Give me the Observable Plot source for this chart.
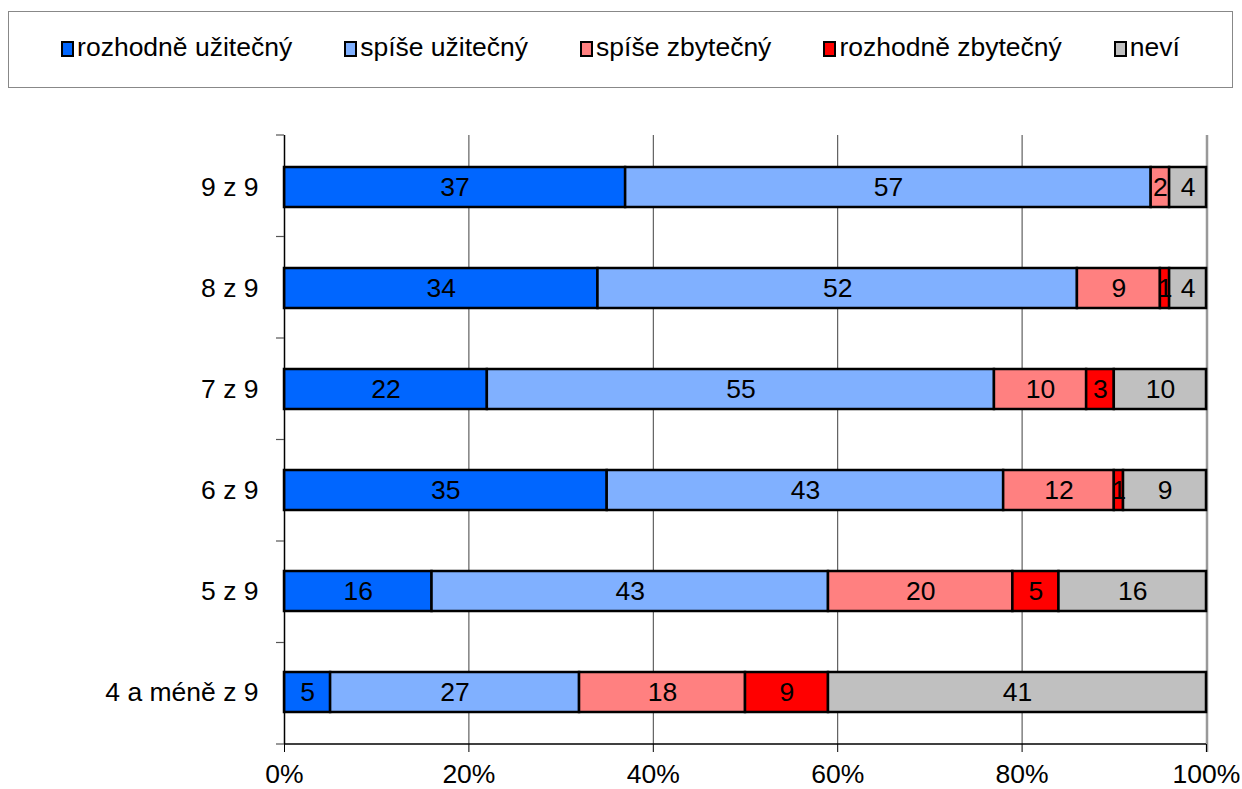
<!DOCTYPE html>
<html>
<head>
<meta charset="utf-8">
<script src="https://cdn.jsdelivr.net/npm/d3@7"></script>
<script src="https://cdn.jsdelivr.net/npm/@observablehq/plot@0.6"></script>
<style>
  body { margin: 0; background: #fff; font-family: "Liberation Sans", Arial, sans-serif; }
  #legend { position: absolute; left: 8px; top: 11px; width: 1225px; height: 77px; box-sizing: border-box;
    border: 1px solid #888; display: flex; align-items: center; justify-content: center; gap: 52px; font-size: 26.5px; color: #000; }
  .item { display: flex; align-items: center; white-space: nowrap; margin-top: -4px; }
  .sw { width: 9px; height: 12px; border: 2px solid #000; margin-right: 3px; margin-top: 2px; }
  #chart { position: absolute; left: 0; top: 100px; }
</style>
</head>
<body>
<div id="legend"></div>
<div id="chart"></div>
<script>
const categories = ["9 z 9", "8 z 9", "7 z 9", "6 z 9", "5 z 9", "4 a méně z 9"];
const seriesNames = ["rozhodně užitečný", "spíše užitečný", "spíše zbytečný", "rozhodně zbytečný", "neví"];
const seriesColors = ["#0066FF", "#80B0FF", "#FF8080", "#FF0000", "#C0C0C0"];
const rozhodneUzitecny = [37, 34, 22, 35, 16, 5];
const spiseUzitecny = [57, 52, 55, 43, 43, 27];
const spiseZbytecny = [2, 9, 10, 12, 20, 18];
const rozhodneZbytecny = [0, 1, 3, 1, 5, 9];
const nevi = [4, 4, 10, 9, 16, 41];
const xTicks = [0, 20, 40, 60, 80, 100];
const gridTicks = [20, 40, 60, 80];

const seriesValues = [rozhodneUzitecny, spiseUzitecny, spiseZbytecny, rozhodneZbytecny, nevi];
const data = [];
categories.forEach((c, i) => {
  seriesNames.forEach((s, j) => {
    data.push({category: c, series: s, value: seriesValues[j][i]});
  });
});

// legend
const legend = document.getElementById("legend");
seriesNames.forEach((s, j) => {
  const it = document.createElement("div");
  it.className = "item";
  const sw = document.createElement("div");
  sw.className = "sw";
  sw.style.background = seriesColors[j];
  const t = document.createElement("span");
  t.textContent = s;
  it.appendChild(sw); it.appendChild(t);
  legend.appendChild(it);
});

const W = 1242, H = 689, mL = 284, mR = 36, mT = 35, mB = 45;
const FS = 26.5;
const NS = "http://www.w3.org/2000/svg";
function line(g, x1, y1, x2, y2, stroke, sw) {
  const l = document.createElementNS(NS, "line");
  l.setAttribute("x1", x1); l.setAttribute("x2", x2);
  l.setAttribute("y1", y1); l.setAttribute("y2", y2);
  l.setAttribute("stroke", stroke); l.setAttribute("stroke-width", sw);
  g.appendChild(l);
}

const rightLine = (index, scales, values, dims) => {
  const g = document.createElementNS(NS, "g");
  const top = dims.marginTop, bottom = dims.height - dims.marginBottom;
  const xr = scales.x(100) + 1;
  line(g, xr, top, xr, bottom + 8, "#999", 2.5);
  return g;
};

const frameLines = (index, scales, values, dims) => {
  const g = document.createElementNS(NS, "g");
  const top = dims.marginTop, bottom = dims.height - dims.marginBottom;
  const left = dims.marginLeft, right = dims.width - dims.marginRight;
  const n = categories.length;
  const step = (bottom - top) / n;
  for (let k = 0; k <= n; k++) {
    const yy = top + k * step;
    line(g, left - 8, yy, left, yy, "#555", 1.2);
  }
  line(g, left, bottom, right, bottom, "#000", 1.5);
  return g;
};

const chart = Plot.plot({
  width: W, height: H,
  marginLeft: mL, marginRight: mR, marginTop: mT, marginBottom: mB,
  style: {fontFamily: '"Liberation Sans", Arial, sans-serif', fontSize: FS + "px", color: "#000", background: "#fff", overflow: "visible"},
  x: {domain: [0, 100], label: null},
  y: {domain: categories, paddingInner: 0.6, paddingOuter: 0.3, label: null},
  color: {domain: seriesNames, range: seriesColors},
  marks: [
    Plot.gridX(gridTicks, {stroke: "#000", strokeOpacity: 0.75, strokeWidth: 1}),
    rightLine,
    Plot.barX(data, {x: "value", y: "category", z: "series", fill: "series", stroke: "#000", strokeWidth: 2.5, order: seriesNames}),
    Plot.text(data.filter(d => d.value > 0), Plot.stackX({x: "value", y: "category", z: "series", order: seriesNames, text: d => String(d.value), fill: "#000", fontSize: FS})),
    Plot.ruleX([0], {stroke: "#000", strokeWidth: 1.5}),
    Plot.axisX({ticks: [...xTicks], tickFormat: d => d + "%", tickSize: 8, tickPadding: 12, fontSize: FS, stroke: "#000"}),
    Plot.axisY({tickSize: 0, tickPadding: 26, fontSize: FS}),
    frameLines
  ]
});
document.getElementById("chart").appendChild(chart);
</script>
</body>
</html>
